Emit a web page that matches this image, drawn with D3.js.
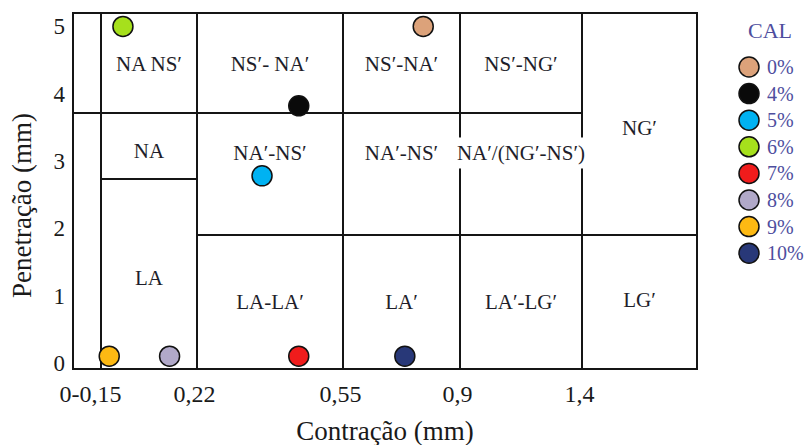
<!DOCTYPE html>
<html><head><meta charset="utf-8">
<script src="https://cdn.jsdelivr.net/npm/d3@7"></script>
<style>
body{margin:0;background:#fff}
text{font-family:"Liberation Serif","Times New Roman",serif}
</style>
</head><body>
<svg id="chart" width="807" height="445"></svg>
<script>
// ---- data ----
const xBreaks = [0, 0.15, 0.22, 0.55, 0.9, 1.4, 1.87];
const xTickValues = [0.15, 0.22, 0.55, 0.9, 1.4];
const xTickLabels = ["0-0,15", "0,22", "0,55", "0,9", "1,4"];
const yTickValues = [0, 1, 2, 3, 4, 5];
const yTickLabels = ["0", "1", "2", "3", "4", "5"];
const yDomain = [-0.09, 5.2];
const penBounds = [3.715, 2.734, 1.902];   // horizontal class boundaries (mm)

const calLabels = ["0%", "4%", "5%", "6%", "7%", "8%", "9%", "10%"];
const calColors = ["#dca27a", "#0a0a0a", "#00b2f2", "#a6e01c", "#f01c1c", "#b1a9c9", "#fdb913", "#283878"];
const contracao = [0.79, 0.45, 0.367, 0.166, 0.45, 0.20, 0.156, 0.735];
const penetracao = [5, 3.82, 2.78, 5, 0.1, 0.1, 0.1, 0.1];

const regionLabels = ["NA NS′", "NS′- NA′", "NS′-NA′", "NS′-NG′", "NG′", "NA", "NA′-NS′", "NA′-NS′", "NA′/(NG′-NS′)", "LA", "LA-LA′", "LA′", "LA′-LG′", "LG′"];
const regionX0 = [0.15, 0.22, 0.55, 0.9, 1.4, 0.15, 0.22, 0.55, 0.9, 0.15, 0.22, 0.55, 0.9, 1.4];
const regionX1 = [0.22, 0.55, 0.9, 1.4, 1.87, 0.22, 0.55, 0.9, 1.4, 0.22, 0.55, 0.9, 1.4, 1.87];
const regionLabelY = [4.44, 4.44, 4.44, 4.44, 3.49, 3.15, 3.12, 3.12, 3.12, 1.26, 0.905, 0.905, 0.905, 0.935];

// ---- layout ----
const svg = d3.select("#chart");
const pLeft = 73, pRight = 697, pTop = 13, pBottom = 369;
const x = d3.scaleLinear().domain(xBreaks).range([pLeft, 101, 197, 343, 460, 582, pRight]);
const y = d3.scaleLinear().domain(yDomain).range([pBottom, pTop]);
const ink = "#151515";

// grid lines of the classification
const g = svg.append("g").attr("stroke", ink).attr("stroke-width", 2).attr("fill", "none");
g.append("rect").attr("x", x(xBreaks[0])).attr("y", y(yDomain[1]))
  .attr("width", x(xBreaks[6]) - x(xBreaks[0])).attr("height", y(yDomain[0]) - y(yDomain[1]));
[0.15, 0.22, 0.55, 0.9, 1.4].forEach(v => {
  g.append("line").attr("x1", x(v)).attr("x2", x(v)).attr("y1", y(yDomain[1])).attr("y2", y(yDomain[0]));
});
g.append("line").attr("x1", x(0)).attr("x2", x(1.4)).attr("y1", y(penBounds[0])).attr("y2", y(penBounds[0]));
g.append("line").attr("x1", x(0.15)).attr("x2", x(0.22)).attr("y1", y(penBounds[1])).attr("y2", y(penBounds[1]));
g.append("line").attr("x1", x(0.22)).attr("x2", x(1.87)).attr("y1", y(penBounds[2])).attr("y2", y(penBounds[2]));

// region labels
const lg = svg.append("g");
regionLabels.forEach((lab, i) => {
  const cx = (x(regionX0[i]) + x(regionX1[i])) / 2;
  const cy = y(regionLabelY[i]);
  const bgR = lg.append("rect").attr("fill", "#fff");
  const t = lg.append("text").attr("x", cx).attr("y", cy)
    .attr("text-anchor", "middle").attr("dominant-baseline", "central")
    .attr("font-size", 21).attr("fill", "#1e1e2a").text(lab);
  const bb = t.node().getBBox();
  bgR.attr("x", bb.x - 2).attr("y", cy - 15.5).attr("width", bb.width + 4).attr("height", 31);
});

// axes
const xAxis = svg.append("g").attr("transform", `translate(0,${pBottom})`)
  .call(d3.axisBottom(x).tickValues(xTickValues).tickSize(0).tickFormat((d, i) => xTickLabels[i]));
xAxis.select(".domain").remove();
xAxis.selectAll("text").attr("y", 24.5).attr("dy", null).attr("dominant-baseline", "central")
  .attr("dx", (d, i) => i === 0 ? -11 : -3)
  .attr("font-size", 24).attr("fill", "#1a1a1a").style("font-family", '"Liberation Serif",serif');

const yAxis = svg.append("g").attr("transform", `translate(${pLeft},0)`)
  .call(d3.axisLeft(y).tickValues(yTickValues).tickSize(0).tickPadding(8).tickFormat((d, i) => yTickLabels[i]));
yAxis.select(".domain").remove();
yAxis.selectAll("text").attr("dy", null).attr("dominant-baseline", "central")
  .attr("font-size", 23).attr("fill", "#1a1a1a").style("font-family", '"Liberation Serif",serif');

// axis titles
svg.append("text").attr("x", (pLeft + pRight) / 2).attr("y", 440).attr("text-anchor", "middle")
  .attr("font-size", 27).attr("fill", "#1a1a1a").text("Contração (mm)");
svg.append("text").attr("transform", `translate(31,${(113 + 298) / 2}) rotate(-90)`).attr("text-anchor", "middle")
  .attr("font-size", 27).attr("fill", "#1a1a1a").text("Penetração (mm)");

// points
svg.append("g").selectAll("circle").data(calLabels).join("circle")
  .attr("cx", (d, i) => x(contracao[i])).attr("cy", (d, i) => y(penetracao[i]))
  .attr("r", 10).attr("fill", (d, i) => calColors[i]).attr("stroke", "#111").attr("stroke-width", 1.5);

// legend
const leg = svg.append("g");
leg.append("text").attr("x", 770).attr("y", 30).attr("text-anchor", "middle").attr("dominant-baseline", "central")
  .attr("font-size", 22).attr("fill", "#4e4e9e").text("CAL");
const rows = leg.selectAll("g.row").data(calLabels).join("g").attr("class", "row")
  .attr("transform", (d, i) => `translate(749,${67 + i * 26.6})`);
rows.append("circle").attr("r", 10).attr("fill", (d, i) => calColors[i]).attr("stroke", "#111").attr("stroke-width", 1.5);
rows.append("text").attr("x", 18).attr("dominant-baseline", "central").attr("font-size", 20)
  .attr("fill", "#4e4e9e").text(d => d);
</script>
</body></html>
